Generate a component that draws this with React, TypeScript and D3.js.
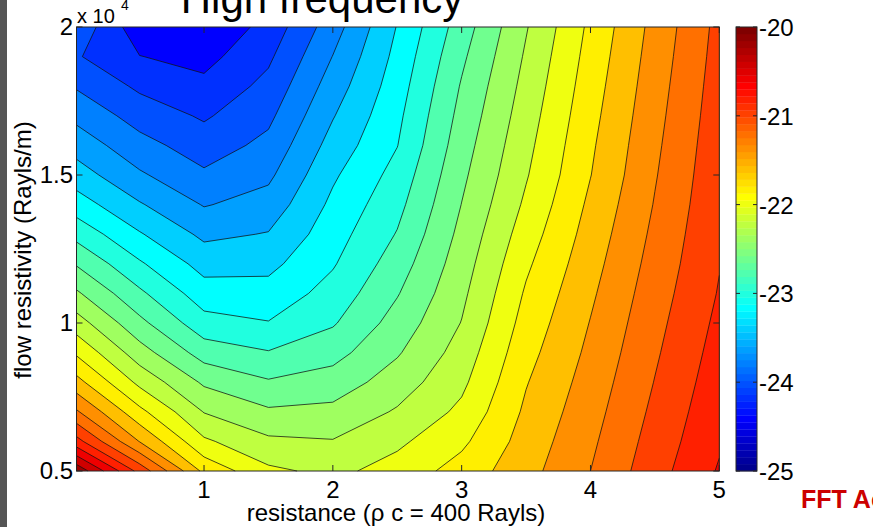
import { scaleLinear } from "d3";

// grid of the contour plot: resistance (x) and flow resistivity (y)
const xValues = [0.01, 0.5, 1, 1.5, 2, 2.5, 3, 3.5, 4, 4.5, 5];
const yValues = [5000, 6000, 7000, 8000, 9000, 10000, 11000, 12000, 13000, 14000, 15000, 16000, 17000, 18000, 19000, 20000];

// one row of levels (dB) for each flow resistivity
const z5000 = [-20.05, -20.87, -21.65, -21.96, -22.05, -21.92, -21.72, -21.47, -21.2, -20.88, -20.58];
const z6000 = [-20.727, -21.408, -21.966, -22.161, -22.189, -22.04, -21.841, -21.517, -21.238, -20.918, -20.626];
const z7000 = [-21.174, -21.745, -22.209, -22.369, -22.347, -22.178, -21.955, -21.564, -21.277, -20.956, -20.658];
const z8000 = [-21.531, -22.053, -22.433, -22.579, -22.51, -22.303, -22.045, -21.612, -21.315, -20.993, -20.69];
const z9000 = [-21.832, -22.312, -22.69, -22.787, -22.672, -22.421, -22.119, -21.667, -21.354, -21.027, -20.722];
const z10000 = [-22.109, -22.546, -22.926, -22.991, -22.821, -22.518, -22.193, -21.721, -21.392, -21.059, -20.754];
const z11000 = [-22.37, -22.761, -23.109, -23.124, -22.925, -22.614, -22.245, -21.775, -21.433, -21.091, -20.786];
const z12000 = [-22.618, -22.973, -23.275, -23.255, -23.019, -22.701, -22.295, -21.835, -21.475, -21.124, -20.809];
const z13000 = [-22.865, -23.182, -23.445, -23.389, -23.087, -22.788, -22.345, -21.9, -21.517, -21.156, -20.825];
const z14000 = [-23.103, -23.381, -23.613, -23.52, -23.155, -22.86, -22.396, -21.964, -21.559, -21.188, -20.842];
const z15000 = [-23.306, -23.572, -23.768, -23.641, -23.231, -22.929, -22.443, -22.017, -21.605, -21.215, -20.858];
const z16000 = [-23.483, -23.73, -23.9, -23.746, -23.322, -23.005, -22.489, -22.056, -21.632, -21.239, -20.874];
const z17000 = [-23.653, -23.883, -24.026, -23.846, -23.413, -23.047, -22.536, -22.096, -21.663, -21.263, -20.891];
const z18000 = [-23.82, -24.038, -24.149, -23.942, -23.504, -23.095, -22.582, -22.135, -21.694, -21.287, -20.907];
const z19000 = [-23.98, -24.195, -24.267, -24.037, -23.595, -23.142, -22.638, -22.174, -21.725, -21.311, -20.924];
const z20000 = [-23.85, -24.33, -24.38, -24.13, -23.69, -23.19, -22.7, -22.215, -21.756, -21.335, -20.94];

const zRows = [z5000, z6000, z7000, z8000, z9000, z10000, z11000, z12000, z13000, z14000, z15000, z16000, z17000, z18000, z19000, z20000];

const levels = [-25, -24.8, -24.6, -24.4, -24.2, -24, -23.8, -23.6, -23.4, -23.2, -23, -22.8, -22.6, -22.4, -22.2, -22, -21.8, -21.6, -21.4, -21.2, -21, -20.8, -20.6, -20.4, -20.2, -20];

const xTicks = [1, 2, 3, 4, 5];
const yTicks = [5000, 10000, 15000, 20000];
const yTickLabels = ["0.5", "1", "1.5", "2"];
const cbarTicks = [-25, -24, -23, -22, -21, -20];

const plot = { left: 76.5, right: 719.3, top: 27, bottom: 471 };
const cbar = { left: 736, right: 757 };
const font = "'Liberation Sans', Arial, sans-serif";

// matlab jet(64), k from 1 to 64
let jetU = (i) => {
	if (i < 1 || i > 47) return 0;
	if (i <= 16) return i / 16;
	if (i <= 31) return 1;
	return (48 - i) / 16;
};
let jet = (k) => {
	let r = jetU(k - 24);
	let g = jetU(k - 8);
	let b = jetU(k + 8);
	return `rgb(${Math.round(r * 255)},${Math.round(g * 255)},${Math.round(b * 255)})`;
};
let levelColor = (v) => {
	let k = Math.floor(((v + 25) / 5) * 64) + 1;
	return jet(Math.max(1, Math.min(64, k)));
};

type V = { x: number; y: number; z: number; cut: boolean };

let clipAbove = (poly: V[], lev: number): V[] => {
	let out: V[] = [];
	for (let i = 0; i < poly.length; i++) {
		let a = poly[i];
		let b = poly[(i + 1) % poly.length];
		let ain = a.z >= lev;
		let bin = b.z >= lev;
		if (ain !== bin) {
			let t = (lev - a.z) / (b.z - a.z);
			out.push({ x: a.x + t * (b.x - a.x), y: a.y + t * (b.y - a.y), z: lev, cut: true });
		}
		if (bin) out.push(b);
	}
	return out;
};

let pt = (p: V) => `${p.x.toFixed(2)},${p.y.toFixed(2)}`;

export default function App() {
	let xScale = scaleLinear().domain([0.01, 5]).range([plot.left, plot.right]);
	let yScale = scaleLinear().domain([5000, 20000]).range([plot.bottom, plot.top]);
	let cScale = scaleLinear().domain([-25, -20]).range([plot.bottom, plot.top]);

	let node = (i, j): V => ({ x: xScale(xValues[i]), y: yScale(yValues[j]), z: zRows[j][i], cut: false });

	let cells: V[][] = [];
	for (let j = 0; j < yValues.length - 1; j++) {
		for (let i = 0; i < xValues.length - 1; i++) {
			cells.push([node(i, j), node(i + 1, j), node(i + 1, j + 1), node(i, j + 1)]);
		}
	}

	let fills = levels.slice(0, -1).map((lev) => {
		let d = "";
		cells.forEach((c) => {
			let p = clipAbove(c, lev);
			if (p.length >= 3) d += "M" + p.map(pt).join("L") + "Z";
		});
		return { lev, d };
	});

	let lineD = "";
	levels.slice(1, -1).forEach((lev) => {
		cells.forEach((c) => {
			let p = clipAbove(c, lev);
			if (p.length < 3) return;
			for (let i = 0; i < p.length; i++) {
				let a = p[i];
				let b = p[(i + 1) % p.length];
				if (a.cut && b.cut) lineD += `M${pt(a)}L${pt(b)}`;
			}
		});
	});

	let cells64 = Array.from({ length: 64 }, (_, k) => k);
	let tick = 6;

	return (
		<svg width={873} height={527} style={{ position: "absolute", left: 0, top: 0, background: "#fff" }} fontFamily={font}>
			<rect x={0} y={0} width={873} height={527} fill="#fff" />
			<rect x={0} y={0} width={7} height={527} fill="#555" />

			<text x={322} y={13} fontSize={42} textAnchor="middle" fill="#000">
				High frequency
			</text>

			<g className="fills">
				{fills.map((f) => (
					<path key={f.lev} d={f.d} fill={levelColor(f.lev)} />
				))}
			</g>
			<path d={lineD} fill="none" stroke="#111" strokeWidth={0.75} />

			<rect
				x={plot.left}
				y={plot.top}
				width={plot.right - plot.left}
				height={plot.bottom - plot.top}
				fill="none"
				stroke="#262626"
				strokeWidth={1}
			/>

			<g className="axis" stroke="#262626" strokeWidth={1}>
				{xTicks.map((t) => (
					<g key={"x" + t}>
						<line x1={xScale(t)} x2={xScale(t)} y1={plot.bottom} y2={plot.bottom - tick} />
						<line x1={xScale(t)} x2={xScale(t)} y1={plot.top} y2={plot.top + tick} />
					</g>
				))}
				{yTicks.map((t) => (
					<g key={"y" + t}>
						<line x1={plot.left} x2={plot.left + tick} y1={yScale(t)} y2={yScale(t)} />
						<line x1={plot.right} x2={plot.right - tick} y1={yScale(t)} y2={yScale(t)} />
					</g>
				))}
			</g>

			<g fontSize={24} fill="#000">
				{xTicks.map((t) => (
					<text key={"xl" + t} x={xScale(t)} y={498} textAnchor="middle">
						{t}
					</text>
				))}
				{yTicks.map((t, i) => (
					<text key={"yl" + t} x={73} y={yScale(t) + 8} textAnchor="end">
						{yTickLabels[i]}
					</text>
				))}
			</g>

			<text x={77} y={23} fontSize={20} fill="#000">
				x 10
			</text>
			<text x={121} y={10} fontSize={14} fill="#000">
				4
			</text>

			<text x={396} y={521} fontSize={24} textAnchor="middle" fill="#000">
				resistance (ρ c = 400 Rayls)
			</text>
			<text
				transform={`translate(31,${(plot.top + plot.bottom) / 2 + 1}) rotate(-90)`}
				fontSize={24}
				textAnchor="middle"
				fill="#000"
			>
				flow resistivity (Rayls/m)
			</text>

			<g className="colorbar">
				{cells64.map((k) => (
					<rect
						key={k}
						x={cbar.left}
						y={cScale(-25 + ((k + 1) * 5) / 64)}
						width={cbar.right - cbar.left}
						height={cScale(-25 + (k * 5) / 64) - cScale(-25 + ((k + 1) * 5) / 64) + 0.3}
						fill={jet(k + 1)}
					/>
				))}
				<rect
					x={cbar.left}
					y={plot.top}
					width={cbar.right - cbar.left}
					height={plot.bottom - plot.top}
					fill="none"
					stroke="#262626"
					strokeWidth={1}
				/>
				{cbarTicks.map((t) => (
					<g key={"c" + t} stroke="#262626">
						<line x1={cbar.left} x2={cbar.left + 4} y1={cScale(t)} y2={cScale(t)} />
						<line x1={cbar.right} x2={cbar.right - 4} y1={cScale(t)} y2={cScale(t)} />
					</g>
				))}
				{cbarTicks.map((t) => (
					<text key={"cl" + t} x={759} y={cScale(t) + 9} fontSize={24} fill="#000">
						{t}
					</text>
				))}
			</g>

			<text x={801} y={508} fontSize={25} fontWeight="bold" fill="#cc0000">
				FFT Acoustics
			</text>
		</svg>
	);
}
